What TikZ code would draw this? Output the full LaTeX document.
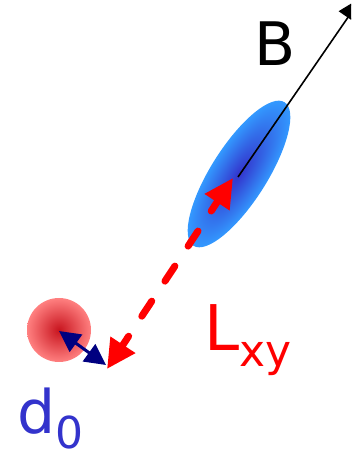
\documentclass[tikz,border=0pt]{standalone}
\usepackage{fontspec}
\setmainfont{DejaVu Sans}
\usetikzlibrary{arrows.meta}
\definecolor{redlight}{RGB}{255,128,128}
\definecolor{reddark}{RGB}{200,20,30}
\definecolor{bluelight}{RGB}{51,153,255}
\definecolor{bluedark}{RGB}{51,51,204}
\definecolor{labelblue}{RGB}{51,51,204}
\definecolor{navyarrow}{RGB}{0,0,128}
\tikzset{
  lbl/.style={inner sep=0pt, anchor=base west},
  redarrow/.style={red, line width=7pt, line cap=round, dash pattern=on 18pt off 24pt, dash phase=6pt,
    {Triangle[length=29pt,width=28pt]}-{Triangle[length=29pt,width=28pt]}},
  navyarr/.style={navyarrow, line width=3pt, {Triangle[length=21pt,width=21pt]}-{Triangle[length=21pt,width=21pt]}},
  blackarr/.style={black, line width=1.6pt, -{Triangle[length=25pt,width=22pt]}}
}
\begin{document}
\begin{tikzpicture}[x=1pt,y=1pt]
\useasboundingbox (0,0) rectangle (351,454);
\clip (0,0) rectangle (351,454);
% blue ellipse
\begin{scope}[transform canvas={shift={(239,280)}, rotate=57.6}]
  \shade[inner color=bluedark, outer color=bluelight] (0,0) ellipse (85 and 28);
\end{scope}
% red circle
\shade[inner color=reddark, outer color=redlight] (59,124) circle (32);
\coordinate (ec) at (238,277);
\coordinate (bt) at (362,457);
\coordinate (rtop) at (233,276);
\coordinate (rbot) at (107,85);
\coordinate (cc) at (59,123);
\coordinate (nb) at (106,89);
\draw[blackarr] (ec) -- (bt);
\draw[redarrow] (rbot) -- (rtop);
\draw[navyarr] (cc) -- (nb);
\node[lbl, anchor=base] (B) at (275,388) {\fontsize{60}{60}\selectfont B};
\node[lbl, text=red] (L) at (204,103) {\fontsize{63}{63}\selectfont L\raisebox{-16pt}{\fontsize{44}{44}\selectfont xy}};
\node[lbl, text=labelblue] (d) at (17,20) {\fontsize{60}{60}\selectfont d\raisebox{-15pt}{\fontsize{44}{44}\selectfont 0}};
\end{tikzpicture}
\end{document}
